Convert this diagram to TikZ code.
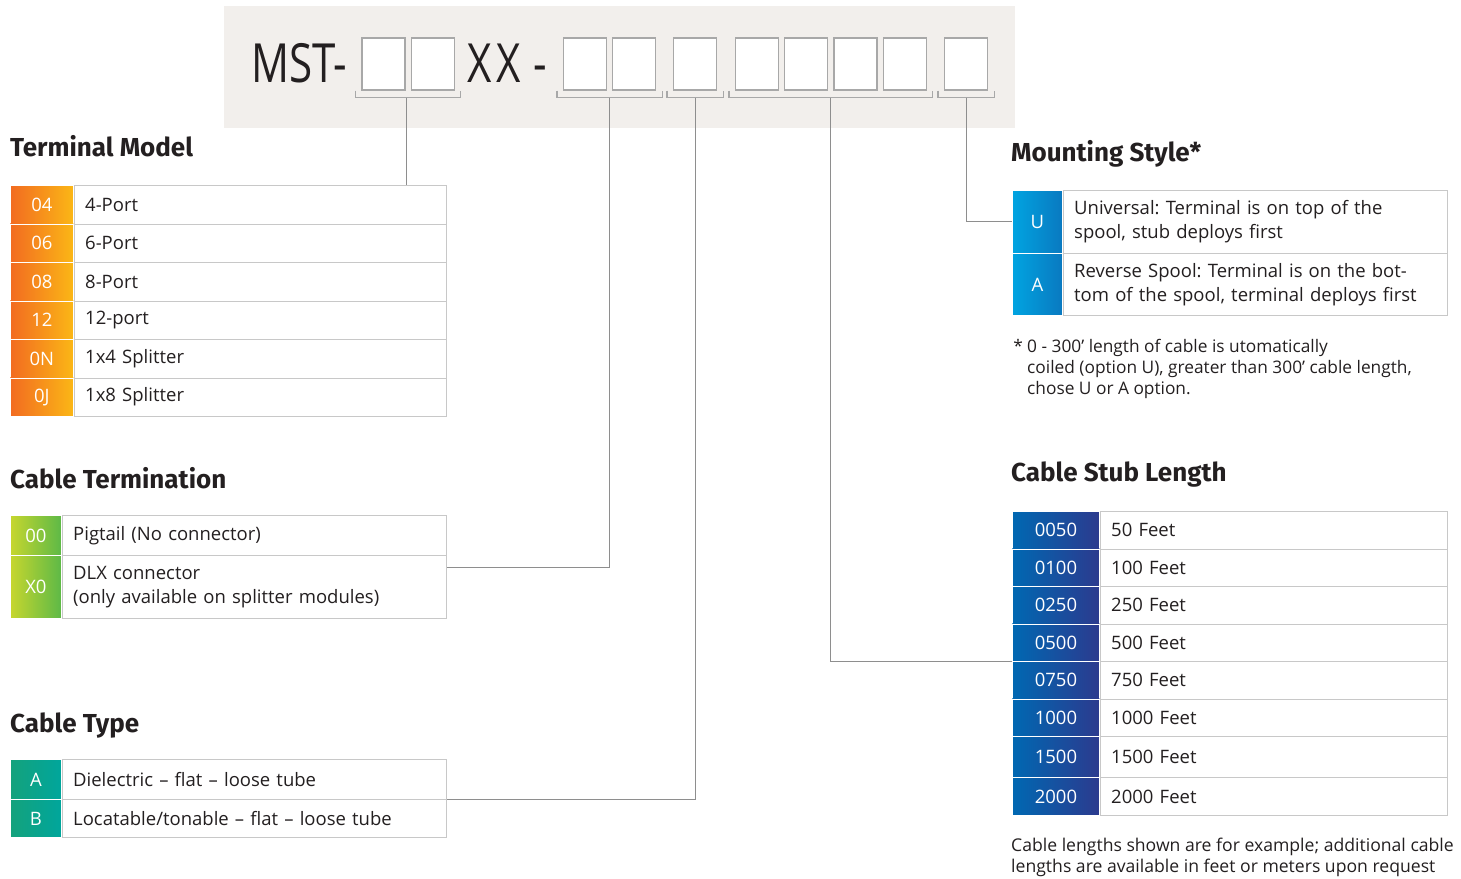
\documentclass[tikz,border=0pt]{standalone}
\usepackage{fontspec}
\setmainfont{Open Sans}
\newfontfamily\headfont{Fira Sans}
\newfontfamily\thinfont{Open Sans}[FakeStretch=0.78]
\usetikzlibrary{positioning,calc}
\frenchspacing

\definecolor{bandgray}{HTML}{F2EFEC}
\definecolor{boxgray}{HTML}{A8A8A8}
\definecolor{linegray}{HTML}{C8C8C8}
\definecolor{linkgray}{HTML}{8E8E8E}
\definecolor{textgray}{HTML}{231F20}
\definecolor{orangeL}{HTML}{F26B21}
\definecolor{orangeR}{HTML}{FBB716}
\definecolor{greenL}{HTML}{C6D62E}
\definecolor{greenR}{HTML}{5DB947}
\definecolor{tealL}{HTML}{14A27C}
\definecolor{tealR}{HTML}{00A69C}
\definecolor{skyL}{HTML}{00A4E1}
\definecolor{skyR}{HTML}{0A79C0}
\definecolor{navyL}{HTML}{0068B2}
\definecolor{navyR}{HTML}{2C3A8E}

\tikzset{
  slot/.style={draw=boxgray, line width=1.2pt, fill=white, minimum width=43pt, minimum height=52pt, inner sep=0pt},
  title/.style={font=\headfont\bfseries\fontsize{26}{30}\selectfont, anchor=base west, inner sep=0pt, text=textgray},
  code/.style={draw=white, line width=0.8pt, text=white, inner sep=0pt, anchor=north west, font=\fontsize{18.5}{22}\selectfont},
  desc/.style={draw=linegray, line width=0.8pt, inner xsep=11pt, inner ysep=0pt, align=left, text=textgray, font=\fontsize{18.5}{24}\selectfont},
  bracket/.style={draw=boxgray, line width=1.2pt},
  link/.style={draw=linkgray, line width=1pt},
  note/.style={anchor=north west, align=left, inner sep=0pt, text=textgray, font=\fontsize{17.3}{21}\selectfont}
}

\begin{document}
\begin{tikzpicture}[x=1pt, y=-1pt]
	\useasboundingbox (0,0) rectangle (1461,878);

	% part number band
	\fill[bandgray] (224,6) rectangle (1015,128);
	\node[anchor=base west, inner sep=0pt, text=textgray, font=\thinfont\fontsize{54}{60}\selectfont] (mst) at (251,82) {MST-};
	\node[anchor=base west, inner sep=0pt, text=textgray, font=\thinfont\fontsize{54}{60}\selectfont] (xx) at (467,82) {X\kern5pt X};
	\node[anchor=base west, inner sep=0pt, text=textgray, font=\thinfont\fontsize{54}{60}\selectfont] (dash) at (533,82) {-};

	\node[slot] (b1) at (383.5,64) {};
	\node[slot, right=5pt of b1] (b2) {};
	\node[slot] (b3) at (585,64) {};
	\node[slot, right=5pt of b3] (b4) {};
	\node[slot] (b5) at (695,64) {};
	\node[slot] (b6) at (757,64) {};
	\node[slot, right=5pt of b6] (b7) {};
	\node[slot, right=5pt of b7] (b8) {};
	\node[slot, right=5pt of b8] (b9) {};
	\node[slot] (b10) at (966,64) {};

	\draw[bracket] ([xshift=-6pt]b1.south west) -- ++(0,7) -| ([xshift=6pt]b2.south east);
	\draw[bracket] ([xshift=-6pt]b3.south west) -- ++(0,7) -| ([xshift=6pt]b4.south east);
	\draw[bracket] ([xshift=-6pt]b5.south west) -- ++(0,7) -| ([xshift=6pt]b5.south east);
	\draw[bracket] ([xshift=-6pt]b6.south west) -- ++(0,7) -| ([xshift=6pt]b9.south east);
	\draw[bracket] ([xshift=-6pt]b10.south west) -- ++(0,7) -| ([xshift=6pt]b10.south east);

	\coordinate (k1) at ($(b1.south east)!0.5!(b2.south west)+(-1.5,7)$);
	\coordinate (k2) at ($(b3.south east)!0.5!(b4.south west)+(0,7)$);
	\coordinate (k3) at ($(b5.south)+(0,7)$);
	\coordinate (k4) at ($(b7.south east)!0.5!(b8.south west)+(0,7)$);
	\coordinate (k5) at ($(b10.south)+(0,7)$);

	% Terminal Model
	\node[title] (tmt) at (10,156) {Terminal Model};
	\node[code, left color=orangeL, right color=orangeR, minimum width=63pt, minimum height=38.5pt] (tm1) at (10,185) {04};
	\node[code, left color=orangeL, right color=orangeR, minimum width=63pt, minimum height=38.5pt] (tm2) at (10,223.5) {06};
	\node[code, left color=orangeL, right color=orangeR, minimum width=63pt, minimum height=38.5pt] (tm3) at (10,262) {08};
	\node[code, left color=orangeL, right color=orangeR, minimum width=63pt, minimum height=38.5pt] (tm4) at (10,300.5) {12};
	\node[code, left color=orangeL, right color=orangeR, minimum width=63pt, minimum height=38.5pt] (tm5) at (10,339) {0N};
	\node[code, left color=orangeL, right color=orangeR, minimum width=63pt, minimum height=38.5pt] (tm6) at (10,377.5) {0J};
	\node[desc, right=0pt of tm1, text width=350pt, minimum height=38.5pt] (tm1d) {4-Port};
	\node[desc, right=0pt of tm2, text width=350pt, minimum height=38.5pt] (tm2d) {6-Port};
	\node[desc, right=0pt of tm3, text width=350pt, minimum height=38.5pt] (tm3d) {8-Port};
	\node[desc, right=0pt of tm4, text width=350pt, minimum height=38.5pt] (tm4d) {12-port};
	\node[desc, right=0pt of tm5, text width=350pt, minimum height=38.5pt] (tm5d) {1x4 Splitter};
	\node[desc, right=0pt of tm6, text width=350pt, minimum height=38.5pt] (tm6d) {1x8 Splitter};

	% Cable Termination
	\node[title] (ctt) at (10,488) {Cable Termination};
	\node[code, left color=greenL, right color=greenR, minimum width=51pt, minimum height=40pt] (ct1) at (10,515) {00};
	\node[code, left color=greenL, right color=greenR, minimum width=51pt, minimum height=63pt] (ct2) at (10,555) {X0};
	\node[desc, right=0pt of ct1, text width=362pt, minimum height=40pt] (ct1d) {Pigtail (No connector)};
	\node[desc, right=0pt of ct2, text width=362pt, minimum height=63pt] (ct2d) {DLX connector\\(only available on splitter modules)};

	% Cable Type
	\node[title] (cyt) at (10,732) {Cable Type};
	\node[code, left color=tealL, right color=tealR, minimum width=51pt, minimum height=40pt] (cy1) at (10,759) {A};
	\node[code, left color=tealL, right color=tealR, minimum width=51pt, minimum height=38pt] (cy2) at (10,799) {B};
	\node[desc, right=0pt of cy1, text width=362pt, minimum height=40pt] (cy1d) {Dielectric -- flat -- loose tube};
	\node[desc, right=0pt of cy2, text width=362pt, minimum height=38pt] (cy2d) {Locatable/tonable -- flat -- loose tube};

	% Mounting Style
	\node[title] (mstyle) at (1011,161) {Mounting Style*};
	\node[code, left color=skyL, right color=skyR, minimum width=50pt, minimum height=63pt] (ms1) at (1012,190) {U};
	\node[code, left color=skyL, right color=skyR, minimum width=50pt, minimum height=62pt] (ms2) at (1012,253) {A};
	\node[desc, right=0pt of ms1, text width=362pt, minimum height=63pt] (ms1d) {Universal: Terminal is on top of the\\spool, stub deploys first};
	\node[desc, right=0pt of ms2, text width=362pt, minimum height=62pt] (ms2d) {Reverse Spool: Terminal is on the bot-\\tom of the spool, terminal deploys first};
	\node[note] (fn) at (1027,339) {0 - 300’ length of cable is utomatically\\coiled (option U), greater than 300’ cable length,\\chose U or A option.};
	\node[note, anchor=north east, inner xsep=4pt] (fnstar) at (fn.north west) {*};

	% Cable Stub Length
	\node[title] (cst) at (1011,481) {Cable Stub Length};
	\node[code, left color=navyL, right color=navyR, minimum width=87pt, minimum height=37.5pt] (cs1) at (1012,511) {0050};
	\node[code, left color=navyL, right color=navyR, minimum width=87pt, minimum height=37.5pt] (cs2) at (1012,548.5) {0100};
	\node[code, left color=navyL, right color=navyR, minimum width=87pt, minimum height=37.5pt] (cs3) at (1012,586) {0250};
	\node[code, left color=navyL, right color=navyR, minimum width=87pt, minimum height=37.5pt] (cs4) at (1012,623.5) {0500};
	\node[code, left color=navyL, right color=navyR, minimum width=87pt, minimum height=37.5pt] (cs5) at (1012,661) {0750};
	\node[code, left color=navyL, right color=navyR, minimum width=87pt, minimum height=37.5pt] (cs6) at (1012,698.5) {1000};
	\node[code, left color=navyL, right color=navyR, minimum width=87pt, minimum height=41pt] (cs7) at (1012,736) {1500};
	\node[code, left color=navyL, right color=navyR, minimum width=87pt, minimum height=38pt] (cs8) at (1012,777) {2000};
	\node[desc, right=0pt of cs1, text width=325pt, minimum height=37.5pt] (cs1d) {50 Feet};
	\node[desc, right=0pt of cs2, text width=325pt, minimum height=37.5pt] (cs2d) {100 Feet};
	\node[desc, right=0pt of cs3, text width=325pt, minimum height=37.5pt] (cs3d) {250 Feet};
	\node[desc, right=0pt of cs4, text width=325pt, minimum height=37.5pt] (cs4d) {500 Feet};
	\node[desc, right=0pt of cs5, text width=325pt, minimum height=37.5pt] (cs5d) {750 Feet};
	\node[desc, right=0pt of cs6, text width=325pt, minimum height=37.5pt] (cs6d) {1000 Feet};
	\node[desc, right=0pt of cs7, text width=325pt, minimum height=41pt] (cs7d) {1500 Feet};
	\node[desc, right=0pt of cs8, text width=325pt, minimum height=38pt] (cs8d) {2000 Feet};
	\node[note, font=\fontsize{17.6}{21}\selectfont] (csn) at (1011,838) {Cable lengths shown are for example; additional cable\\lengths are available in feet or meters upon request};

	% connectors
	\draw[link] (k1) -- (k1 |- tm1d.north);
	\draw[link] (k2) |- ([yshift=19.5pt]ct2d.east);
	\draw[link] (k3) |- (cy1d.south east);
	\draw[link] (k4) |- (cs4.south west);
	\draw[link] (k5) |- (ms1.west);

\end{tikzpicture}
\end{document}
